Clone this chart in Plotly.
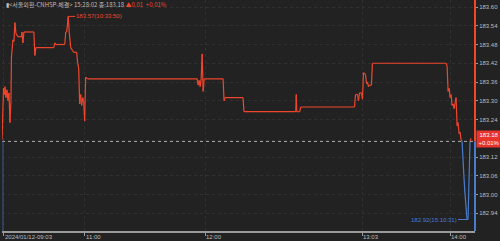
import plotly.graph_objects as go

# ---- data ----
tick_index = [0, 81, 202, 360, 448]
tick_labels = ["2024/01/12-09:03", "11:00", "12:00", "13:03", "14:00"]

seq_index = [0, 0.5, 1.5, 2.5, 3, 4, 5, 6, 7, 8, 9, 9.5, 11, 12, 13, 14, 15, 16, 19.5, 20, 21, 22,
             32, 33, 34, 52, 53, 54, 63, 64, 65, 66.5, 67.5, 69, 71, 72, 75, 76, 77, 78, 79, 80,
             81, 82, 83, 84, 86, 196, 197, 198, 199, 200, 201, 202, 203, 222, 223, 224, 242, 243,
             295, 295.5, 296, 299, 300, 354, 355, 357, 358, 359, 361, 362, 363, 365, 366, 367, 368,
             369, 371, 372, 446, 447, 448, 449, 450, 451, 452, 453, 454, 456, 457, 458, 459, 460,
             461, 462, 464, 465, 467, 468, 470, 471]
seq_index = [v - 2 for v in seq_index]
price = [183.175, 183.225, 183.34, 183.32, 183.345, 183.31, 183.335, 183.30, 183.325, 183.23, 183.30,
         183.44, 183.495, 183.49, 183.55, 183.515, 183.51, 183.505, 183.505, 183.52, 183.485, 183.52,
         183.52, 183.445, 183.47, 183.47, 183.485, 183.48, 183.48, 183.52, 183.52, 183.57, 183.52,
         183.47, 183.46, 183.455, 183.455, 183.42, 183.405, 183.29, 183.32, 183.285,
         183.31, 183.30, 183.235, 183.375, 183.37, 183.37, 183.35, 183.365, 183.345, 183.37, 183.45,
         183.33, 183.37, 183.37, 183.30, 183.31, 183.31, 183.265,
         183.265, 183.32, 183.265, 183.265, 183.28, 183.28, 183.32, 183.32, 183.30, 183.325, 183.325,
         183.305, 183.39, 183.385, 183.355, 183.36, 183.345,
         183.35, 183.35, 183.42, 183.42, 183.41, 183.33, 183.34, 183.31, 183.32, 183.285, 183.29,
         183.275, 183.31, 183.22, 183.23, 183.195, 183.20,
         183.175, 183.17, 183.05, 183.00, 182.92, 182.92, 183.17, 183.18]
prev_close = 183.17
last_price = 183.18
change = 0.01
change_pct = 0.01
max_time = "10:33:50"
min_time = "15:10:31"
title_text = "▮&lt;서울외환-CNHSP-체결&gt; 15:28:02 종:183.18 "
y_ticks = [183.60, 183.54, 183.48, 183.42, 183.36, 183.30, 183.24, 183.12, 183.06, 183.00, 182.94]

RED = "#f0462c"
BLUE = "#4a7ccc"
BG = "#222222"
TXT = "#bdbdbd"
NARROW = "Liberation Sans Narrow, Arial Narrow, sans-serif"

# split the series into up / down coloured pieces at the previous close
rx, ry, bx, by = [], [], [], []
for i in range(len(seq_index) - 1):
    x0, y0, x1, y1 = seq_index[i], price[i], seq_index[i + 1], price[i + 1]
    up0 = y0 >= prev_close
    up1 = y1 >= prev_close
    if up0 == up1:
        tx, ty = (rx, ry) if up0 else (bx, by)
        tx += [x0, x1, None]
        ty += [y0, y1, None]
    else:
        xc = x0 + (prev_close - y0) / (y1 - y0) * (x1 - x0)
        a = (rx, ry) if up0 else (bx, by)
        b = (rx, ry) if up1 else (bx, by)
        a[0].extend([x0, xc, None]); a[1].extend([y0, prev_close, None])
        b[0].extend([xc, x1, None]); b[1].extend([prev_close, y1, None])

fig = go.Figure()
fig.add_trace(go.Scatter(x=rx, y=ry, mode="lines", line=dict(color=RED, width=1.2),
                         hoverinfo="skip", connectgaps=False))
fig.add_trace(go.Scatter(x=bx, y=by, mode="lines", line=dict(color=BLUE, width=1.2),
                         hoverinfo="skip", connectgaps=False))

X_MAX = 473
Y_TOP = 183.6224
Y_BOT = 182.8832

shapes = [
    dict(type="line", xref="x", yref="y", x0=-2, x1=X_MAX, y0=prev_close, y1=prev_close,
         line=dict(color="#b0b0b0", width=1, dash="dot")),
    dict(type="line", xref="paper", yref="y", x0=1, x1=1, y0=prev_close, y1=Y_TOP,
         line=dict(color=RED, width=2)),
    dict(type="line", xref="paper", yref="y", x0=1, x1=1, y0=prev_close, y1=Y_BOT,
         line=dict(color=BLUE, width=2)),
    dict(type="line", xref="paper", yref="y", x0=0.002, x1=0.002, y0=prev_close, y1=Y_BOT,
         line=dict(color="#3a5a8a", width=1)),
]

imax = max(range(len(price)), key=lambda i: price[i])
imin = min(range(len(price)), key=lambda i: price[i])
shapes.append(dict(type="line", xref="x", yref="y", x0=seq_index[imax], x1=seq_index[imax] + 7,
                   y0=price[imax], y1=price[imax], line=dict(color=RED, width=1)))
shapes.append(dict(type="line", xref="x", yref="y", x0=seq_index[imin] - 9, x1=seq_index[imin],
                   y0=price[imin], y1=price[imin], line=dict(color=BLUE, width=1)))

annotations = [
    dict(xref="paper", yref="paper", x=0.004, y=1, xanchor="left", yanchor="top", yshift=2,
         text=title_text + f"<span style='color:{RED}'>▲{change:.2f}  +{change_pct:.2f}%</span>",
         showarrow=False, font=dict(size=6, color=TXT,
                                    family="Liberation Sans Narrow, Noto Sans CJK KR, sans-serif")),
    dict(xref="x", yref="y", x=seq_index[imax] + 7, y=price[imax], xanchor="left", yanchor="middle",
         text=f"{price[imax]:.2f}({max_time})", showarrow=False, xshift=-1,
         font=dict(size=6, color=RED, family=NARROW)),
    dict(xref="x", yref="y", x=seq_index[imin] - 9, y=price[imin], xanchor="right", yanchor="middle",
         text=f"{price[imin]:.2f}({min_time})", showarrow=False, xshift=1,
         font=dict(size=6, color=BLUE, family=NARROW)),
    dict(xref="paper", yref="y", x=1, xshift=1, y=last_price, yshift=-1, xanchor="left", yanchor="middle",
         text=f"{last_price:.2f}<br>+{change_pct:.2f}%", showarrow=False, bgcolor="#e8332a",
         borderpad=1, width=22, align="center",
         font=dict(size=6, color="#ffffff", family=NARROW)),
]
for tv, tl in zip(tick_index, tick_labels):
    annotations.append(dict(xref="x", yref="paper", x=tv, y=0, xanchor="left", yanchor="top",
                            yshift=-1, xshift=-1, text=tl, showarrow=False,
                            font=dict(size=6, color=TXT, family=NARROW)))

fig.update_layout(
    width=500, height=241,
    margin=dict(l=2, r=25, t=0, b=10),
    paper_bgcolor=BG, plot_bgcolor=BG,
    showlegend=False,
    shapes=shapes,
    annotations=annotations,
    xaxis=dict(range=[-2, X_MAX], tickvals=tick_index, showticklabels=False,
               ticks="outside", ticklen=3, tickcolor="#9a9a9a",
               showgrid=True, gridcolor="#303030", griddash="dot", gridwidth=1,
               showline=True, linecolor="#9a9a9a", linewidth=1.5, zeroline=False, fixedrange=True),
    yaxis=dict(range=[Y_BOT, Y_TOP], side="right", tickvals=y_ticks,
               ticktext=[f"{v:.2f}" for v in y_ticks],
               ticks="outside", ticklen=2, tickcolor="#9a9a9a",
               tickfont=dict(size=6, color=TXT, family=NARROW),
               showgrid=True, gridcolor="#303030", griddash="dot", gridwidth=1,
               showline=False, zeroline=False, fixedrange=True),
)

fig.write_html("out.html", config={"displayModeBar": False})
